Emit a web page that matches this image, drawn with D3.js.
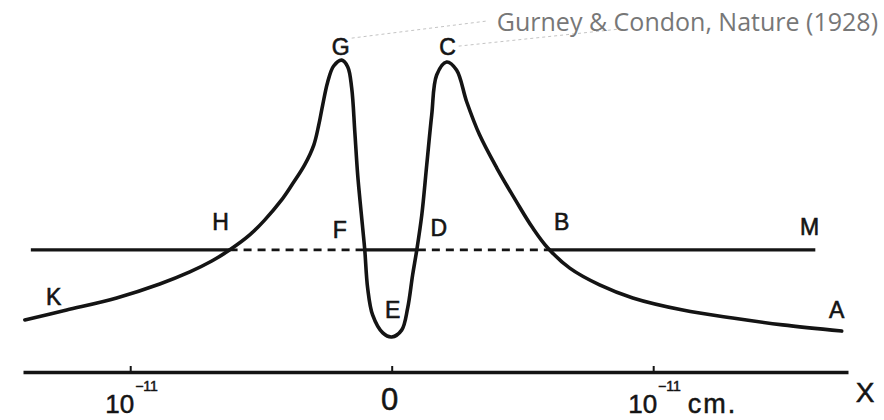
<!DOCTYPE html>
<html>
<head>
<meta charset="utf-8">
<script src="https://cdn.jsdelivr.net/npm/d3@7"></script>
<style>
  body { margin: 0; background: #fff; }
  svg { display: block; }
</style>
</head>
<body>
<svg id="chart" width="884" height="420"></svg>
<script>
// Potential energy V(x) of an alpha particle about a nucleus; x in units of 1e-11 cm.
const curveX = [-1.403, -1.243, -1.052, -0.887, -0.772, -0.688, -0.619, -0.543, -0.486, -0.421,
                -0.382, -0.333, -0.298, -0.279, -0.264, -0.245, -0.222, -0.191, -0.168, -0.153,
                -0.141, -0.130, -0.111, -0.103, -0.092, -0.073, -0.034, 0.000, 0.038, 0.061,
                0.080, 0.096, 0.115, 0.134, 0.153, 0.172, 0.210, 0.248, 0.287, 0.336,
                0.402, 0.478, 0.539, 0.597, 0.681, 0.795, 0.922, 1.113, 1.304, 1.495, 1.721];
const curveV = [16.8, 20.0, 23.9, 28.4, 32.3, 35.8, 39.4, 44.2, 49.0, 55.5,
                60.3, 66.8, 73.2, 79.7, 86.1, 93.5, 98.7, 100.6, 98.4, 91.6,
                77.4, 63.5, 46.5, 39.4, 27.1, 18.4, 12.6, 11.3, 13.5, 20.6,
                31.3, 39.4, 50.6, 66.8, 82.9, 95.8, 100.0, 97.4, 87.1, 76.5,
                65.8, 54.8, 46.5, 40.0, 33.5, 28.1, 23.9, 20.0, 17.4, 15.2, 13.2];

// Energy level of the particle and where it meets the barrier (H, F, D, B)
const levelV = 39.4;
const levelX = [-1.38, -0.62, -0.10, 0.10, 0.60, 1.62];
const levelStyle = ["solid", "dashed", "solid", "dashed", "solid"];

// Letters marking points of the figure
const pointLabels = ["G", "C", "F", "D", "B", "E", "H", "K", "M", "A"];
const labelX = [-0.195, 0.214, -0.199, 0.180, 0.650, 0.004, -0.654, -1.293, 1.598, 1.702];
const labelV = [104.8, 104.8, 45.8, 46.5, 48.4, 20.0, 48.4, 24.2, 46.8, 20.0];

// Distance axis
const tickValues = [-1, 0, 1];
const tickBase = ["10", "0", "10"];
const tickExp = ["\u221211", "", "\u221211"];
const tickUnit = ["", "", "cm."];
const axisName = "X";
const source = "Gurney & Condon, Nature (1928)";

const svg = d3.select("#chart");
const x = d3.scaleLinear().domain([-1.41, 1.745]).range([23, 848]);
const y = d3.scaleLinear().domain([0, 100]).range([372, 62]);
const ink = "#141414";
const letterFont = "Liberation Sans, Arial, sans-serif";

// source note and its leader lines to the two peaks (drawn first, underneath)
const gx = x(labelX[0]), gy = y(labelV[0]);
const cx = x(labelX[1]), cy = y(labelV[1]);
const leaders = [[gx + 11, gy - 9, 487, 21], [cx + 11, cy - 1, 620, 29]];
svg.append("g")
  .selectAll("line")
  .data(leaders)
  .join("line")
  .attr("x1", d => d[0]).attr("y1", d => d[1])
  .attr("x2", d => d[2]).attr("y2", d => d[3])
  .attr("stroke", "#c4c4c4")
  .attr("stroke-width", 1)
  .attr("stroke-dasharray", "3,3");
svg.append("text")
  .attr("x", 878).attr("y", 31)
  .attr("text-anchor", "end")
  .attr("font-family", "Open Sans, sans-serif")
  .attr("font-size", 25)
  .attr("fill", "#777")
  .text(source);

// axis line with small upward ticks
const axis = svg.append("g")
  .attr("transform", `translate(0,${y(0)})`)
  .call(d3.axisTop(x).tickValues(tickValues).tickSizeInner(6).tickSizeOuter(0).tickFormat(""));
axis.select(".domain").attr("stroke", ink).attr("stroke-width", 3.4);
axis.selectAll(".tick line").attr("stroke", ink).attr("stroke-width", 2);

// tick labels
const tl = svg.append("g")
  .attr("font-family", letterFont)
  .attr("fill", ink)
  .attr("stroke", ink)
  .attr("stroke-width", 0.5);
tickValues.forEach((v, i) => {
  const t = tl.append("text");
  if (tickExp[i]) {
    t.attr("x", x(v) - 25).attr("y", 413).attr("font-size", 26).attr("text-anchor", "start");
    t.append("tspan").text(tickBase[i]);
    t.append("tspan").attr("font-size", 14).attr("dy", -22).attr("dx", 1).text(tickExp[i]);
    if (tickUnit[i]) {
      t.append("tspan").attr("dy", 22).attr("dx", 7).attr("font-size", 27)
        .attr("letter-spacing", 2).text(tickUnit[i]);
    }
  } else {
    t.attr("x", x(v) - 2).attr("y", 410).attr("font-size", 31).attr("text-anchor", "middle")
      .text(tickBase[i]);
  }
});
svg.append("text")
  .attr("x", 865).attr("y", 402)
  .attr("text-anchor", "middle")
  .attr("font-family", letterFont)
  .attr("font-size", 28)
  .attr("fill", ink)
  .attr("stroke", ink)
  .attr("stroke-width", 0.5)
  .text(axisName);

// energy level: solid outside the barrier and inside the well, dashed through the barrier
levelStyle.forEach((s, i) => {
  svg.append("line")
    .attr("x1", x(levelX[i])).attr("x2", x(levelX[i + 1]))
    .attr("y1", y(levelV)).attr("y2", y(levelV))
    .attr("stroke", ink)
    .attr("stroke-width", s === "solid" ? 3.4 : 2.6)
    .attr("stroke-dasharray", s === "solid" ? null : "8,6");
});

// potential curve
const pts = curveX.map((d, i) => [d, curveV[i]]);
svg.append("path")
  .datum(pts)
  .attr("fill", "none")
  .attr("stroke", ink)
  .attr("stroke-width", 3.6)
  .attr("stroke-linejoin", "round")
  .attr("stroke-linecap", "round")
  .attr("d", d3.line().x(d => x(d[0])).y(d => y(d[1])).curve(d3.curveCatmullRom.alpha(0.5)));

// point letters
svg.append("g")
  .attr("font-family", letterFont)
  .attr("font-size", 23)
  .attr("fill", ink)
  .attr("stroke", ink)
  .attr("stroke-width", 0.6)
  .selectAll("text")
  .data(pointLabels)
  .join("text")
  .attr("x", (d, i) => x(labelX[i]))
  .attr("y", (d, i) => y(labelV[i]))
  .attr("dy", "0.36em")
  .attr("text-anchor", "middle")
  .text(d => d);
</script>
</body>
</html>
